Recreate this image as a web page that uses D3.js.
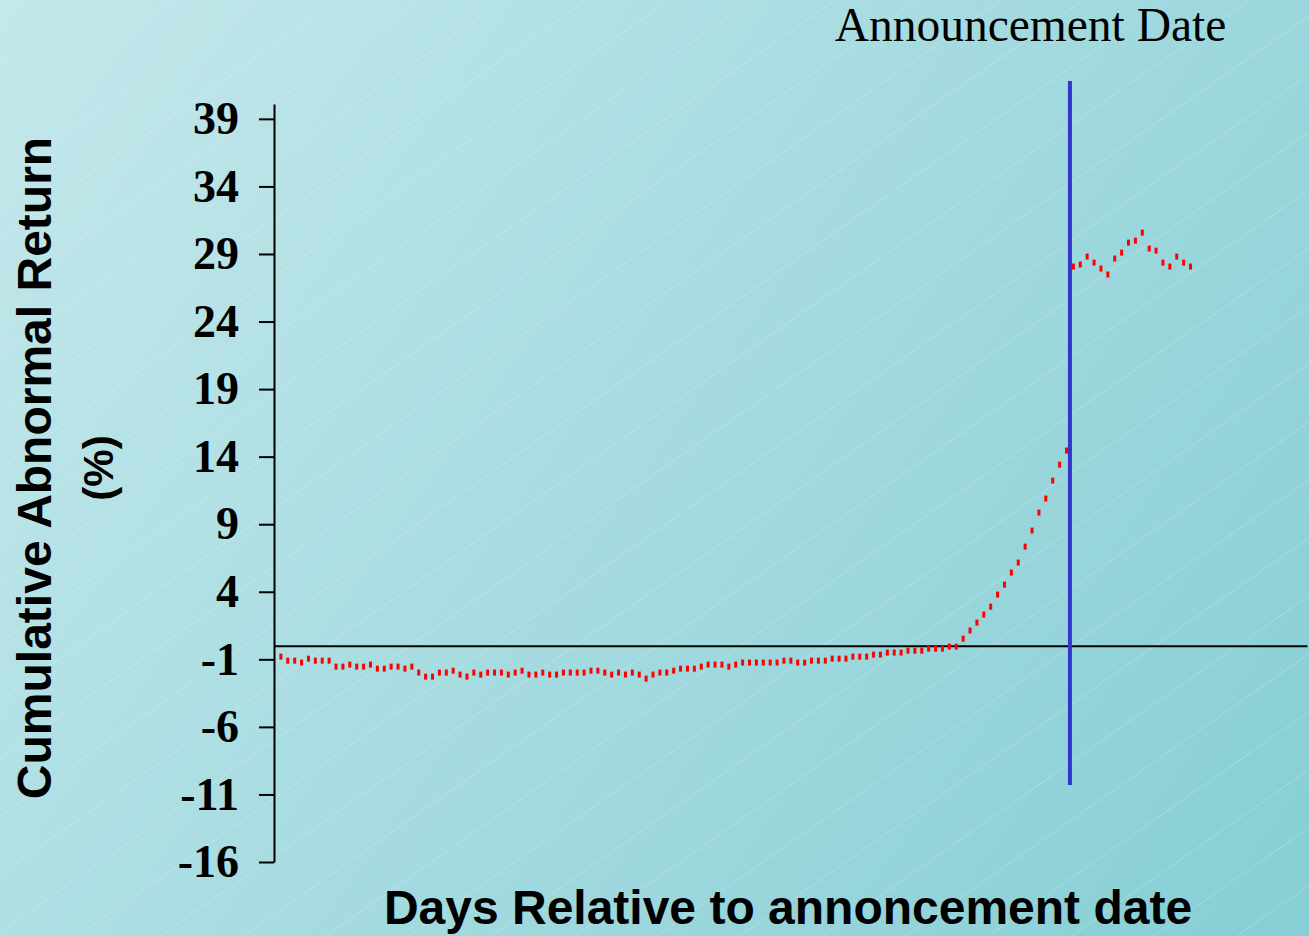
<!DOCTYPE html>
<html>
<head>
<meta charset="utf-8">
<script src="https://cdn.jsdelivr.net/npm/d3@7"></script>
<style>
  html, body { margin: 0; padding: 0; background: #fff; }
  svg { display: block; }
</style>
</head>
<body>
<svg id="chart" width="1309" height="936"></svg>
<script>
// ---- data ----
const dayStart = -115;
const dayEnd = 17;
const days = d3.range(dayStart, dayEnd + 1);

const preAnnouncementCAR = [
  -0.80, -1.10, -1.10, -1.24, -0.95, -1.10, -1.10, -1.10, -1.54, -1.54, -1.39, -1.54, -1.54, -1.39, -1.69, -1.69,
  -1.54, -1.54, -1.69, -1.54, -1.98, -2.28, -2.28, -1.98, -1.98, -1.84, -2.13, -2.28, -1.98, -2.13, -1.98, -1.98,
  -1.98, -2.13, -1.98, -1.84, -2.13, -2.13, -1.98, -2.13, -2.13, -1.98, -1.98, -1.98, -1.98, -1.84, -1.84, -1.98,
  -2.13, -1.98, -2.13, -1.98, -2.13, -2.43, -2.13, -1.98, -1.98, -1.84, -1.69, -1.69, -1.69, -1.54, -1.39, -1.39,
  -1.39, -1.54, -1.39, -1.24, -1.24, -1.24, -1.24, -1.24, -1.24, -1.10, -1.10, -1.24, -1.24, -1.10, -1.10, -1.10,
  -0.95, -0.95, -0.95, -0.80, -0.80, -0.80, -0.65, -0.65, -0.50, -0.50, -0.50, -0.36, -0.36, -0.36, -0.21, -0.21,
  -0.21, -0.06, -0.06, 0.53, 1.13, 1.72, 2.31, 2.90, 3.79, 4.53, 5.42, 6.16, 7.34, 8.53, 9.86, 10.90,
  12.23, 13.41, 14.45
];
const postAnnouncementCAR = [
  28.07, 28.22, 28.81, 28.36, 27.92, 27.48, 28.66, 29.10, 29.84, 29.99, 30.58, 29.40, 29.25, 28.36, 28.07, 28.81,
  28.36, 28.07
];
const yTickValues = [39, 34, 29, 24, 19, 14, 9, 4, -1, -6, -11, -16];
const yTickLabels = ["39", "34", "29", "24", "19", "14", "9", "4", "-1", "-6", "-11", "-16"];
const announcementDay = -0.5;
const announcementSpan = [-10.3, 41.8];

const yTitle = "Cumulative Abnormal Return";
const yTitle2 = "(%)";
const xTitle = "Days Relative to annoncement date";
const annTitle = "Announcement Date";

const car = preAnnouncementCAR.concat(postAnnouncementCAR);
const points = days.map((d, i) => ({ day: d, value: car[i] }));

// ---- drawing ----
const W = 1309, H = 936;
const svg = d3.select("#chart");
const defs = svg.append("defs");
const grad = defs.append("linearGradient").attr("id", "bg")
  .attr("gradientUnits", "userSpaceOnUse")
  .attr("x1", 0).attr("y1", 0).attr("x2", W).attr("y2", H);
grad.append("stop").attr("offset", "0%").attr("stop-color", "#c4e8eb");
grad.append("stop").attr("offset", "100%").attr("stop-color", "#86ced5");

svg.append("rect").attr("width", W).attr("height", H).attr("fill", "url(#bg)");

// faint diagonal texture lines
const slope = 0.7, spacing = 82.8;
const tex = svg.append("g").attr("stroke", "rgba(255,255,255,0.22)").attr("stroke-width", 1);
for (let k = -2; k < 40; k++) {
  const xt = 90 + spacing * k;
  tex.append("line").attr("x1", xt).attr("y1", 0).attr("x2", xt - H / slope).attr("y2", H);
}

const x = d3.scaleLinear().domain([-116, 33.9]).range([274, 1307]);
const y = d3.scaleLinear().domain([-16, 40.1]).range([862, 104]);

// zero line (x axis)
const xAxis = svg.append("g").attr("transform", `translate(0,${y(0)})`)
  .call(d3.axisBottom(x).tickValues([]).tickSizeOuter(0));
xAxis.select(".domain").attr("stroke", "#000").attr("stroke-width", 2);

// y axis
const labelOf = new Map(yTickValues.map((v, i) => [v, yTickLabels[i]]));
const yAxis = svg.append("g").attr("transform", `translate(${x(-116)},0)`)
  .call(d3.axisLeft(y).tickValues(yTickValues).tickFormat(v => labelOf.get(v))
    .tickSize(15).tickSizeOuter(0).tickPadding(20));
yAxis.select(".domain").attr("stroke", "#000").attr("stroke-width", 2);
yAxis.selectAll(".tick line").attr("stroke", "#000").attr("stroke-width", 2);
yAxis.selectAll(".tick text")
  .attr("fill", "#000")
  .style("font-family", "'Liberation Serif', 'Times New Roman', serif")
  .style("font-weight", "bold")
  .style("font-size", "46px");

// announcement line
svg.append("line")
  .attr("x1", x(announcementDay)).attr("x2", x(announcementDay))
  .attr("y1", y(announcementSpan[1])).attr("y2", y(announcementSpan[0]))
  .attr("stroke", "#3434cf").attr("stroke-width", 4);

// data marks
svg.append("g").selectAll("rect").data(points).join("rect")
  .attr("x", d => x(d.day) - 1.5)
  .attr("y", d => y(d.value) - 3)
  .attr("width", 3).attr("height", 6)
  .attr("fill", "#ff0000");

// titles
svg.append("text")
  .attr("transform", `translate(51,${468}) rotate(-90)`)
  .attr("text-anchor", "middle")
  .style("font-family", "'Liberation Sans', Arial, sans-serif")
  .style("font-weight", "bold").style("font-size", "48px")
  .attr("fill", "#000").text(yTitle);
svg.append("text")
  .attr("transform", `translate(113,${468}) rotate(-90)`)
  .attr("text-anchor", "middle")
  .style("font-family", "'Liberation Sans', Arial, sans-serif")
  .style("font-weight", "bold").style("font-size", "42px")
  .attr("fill", "#000").text(yTitle2);

svg.append("text")
  .attr("x", 788).attr("y", 924)
  .attr("text-anchor", "middle")
  .style("font-family", "'Liberation Sans', Arial, sans-serif")
  .style("font-weight", "bold").style("font-size", "48px")
  .attr("fill", "#000").text(xTitle);

svg.append("text")
  .attr("x", 1030.5).attr("y", 41)
  .attr("text-anchor", "middle")
  .style("font-family", "'Liberation Serif', 'Times New Roman', serif")
  .style("font-size", "47.5px")
  .attr("fill", "#000").text(annTitle);
</script>
</body>
</html>
